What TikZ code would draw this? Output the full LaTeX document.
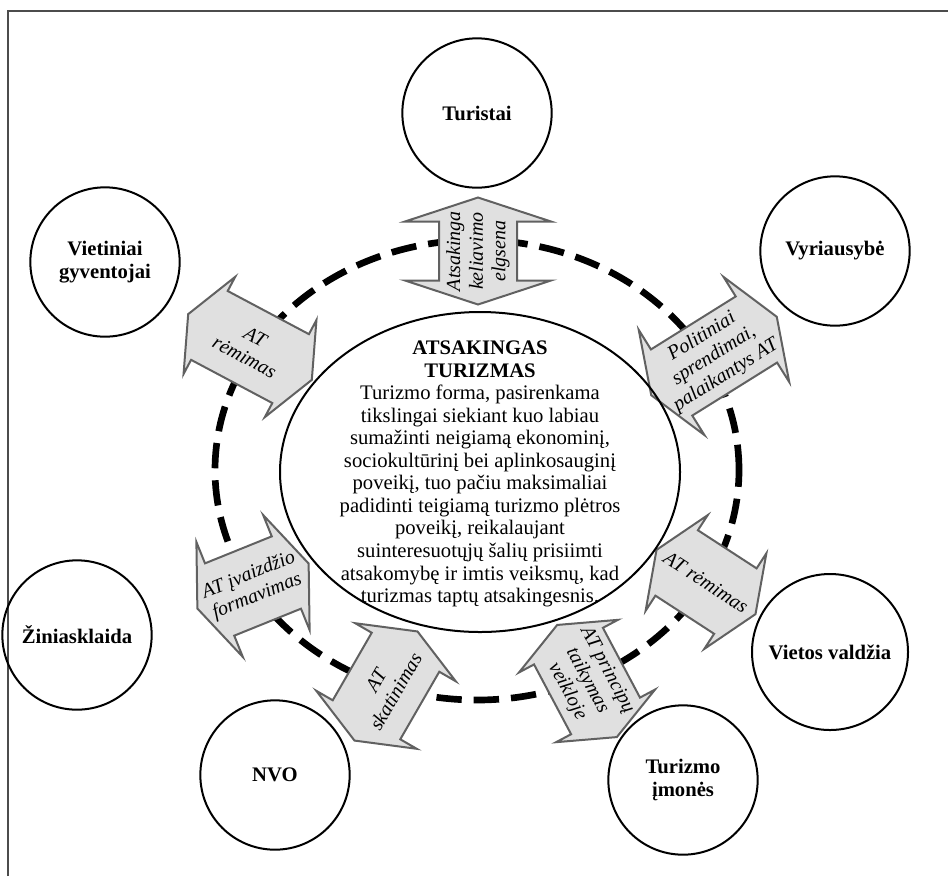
\documentclass[tikz,border=0pt]{standalone}
\usepackage{fontspec}
\setmainfont{Liberation Serif}
\usetikzlibrary{calc}
\tikzset{party/.style={circle,draw,line width=1.5pt,minimum size=112pt,inner sep=0pt,align=center,font=\bfseries\fontsize{15.5}{17}\selectfont}}
\tikzset{linkarrow/.style={draw=black!62,line width=1.5pt,fill=black!12}}
\tikzset{linktext/.style={inner sep=0pt,align=center,font=\itshape\fontsize{15}{17}\selectfont}}
\tikzset{ring/.style={line width=5pt,dash pattern=on 19pt off 9pt}}
% double block arrow: name, centre, angle, length, half head width, text
\newcommand{\atlink}[6]{%
  \begin{scope}[shift={#2},rotate=#3]
    \draw[linkarrow] ({-#4/2},0) -- ({-#4/2+24},#5) -- ({-#4/2+24},39) -- ({#4/2-24},39)
      -- ({#4/2-24},#5) -- ({#4/2},0) -- ({#4/2-24},-#5) -- ({#4/2-24},-39)
      -- ({-#4/2+24},-39) -- ({-#4/2+24},-#5) -- cycle;
    \node[linktext,rotate=#3] (#1) at (0,0) {#6};
  \end{scope}}

\begin{document}
\begin{tikzpicture}[x=0.75pt,y=-0.75pt]
                    \useasboundingbox (0,0) rectangle (948,876);
                    \draw[black!70,line width=1pt] (8,876) -- (8,11) -- (948,11);

                    \draw[ring] (477,470) ellipse [x radius=196.5pt,y radius=172.5pt];

                    \atlink{elgsena}{(478,251)}{90}{107}{73}{Atsakinga\\keliavimo\\elgsena}
                    \atlink{remimasA}{(250,347)}{-28}{140}{55}{AT\\rėmimas}
                    \atlink{politika}{(714,356)}{32}{148}{62}{Politiniai\\sprendimai,\\palaikantys AT}
                    \atlink{remimasB}{(706,582)}{-33}{118}{57}{AT rėmimas}
                    \atlink{principai}{(587,681)}{-62}{127}{56}{AT principų\\taikymas\\veikloje}
                    \atlink{skatinimas}{(386,686)}{60}{126}{58}{AT\\skatinimas}
                    \atlink{ivaizdis}{(253,586)}{22}{120}{62}{AT įvaizdžio\\formavimas}

                    \node[party] (turistai) at (477,113) {Turistai};
                    \node[party] (vyriausybe) at (835,251) {Vyriausybė};
                    \node[party] (vietiniai) at (105,262) {Vietiniai\\gyventojai};
                    \node[party] (ziniasklaida) at (77,635) {Žiniasklaida};
                    \node[party,minimum size=117pt] (valdzia) at (830,652) {Vietos valdžia};
                    \node[party] (nvo) at (275,775) {NVO};
                    \node[party] (imones) at (683,780) {Turizmo\\įmonės};

                    \node[inner sep=0pt,align=center,font=\fontsize{15.5}{16.9}\selectfont] (core) at (480,474)
                      {\textbf{ATSAKINGAS}\\\textbf{TURIZMAS}\\Turizmo forma, pasirenkama\\tikslingai siekiant kuo labiau\\sumažinti neigiamą ekonominį,\\sociokultūrinį bei aplinkosauginį\\poveikį, tuo pačiu maksimaliai\\padidinti teigiamą turizmo plėtros\\poveikį, reikalaujant\\suinteresuotųjų šalių prisiimti\\atsakomybę ir imtis veiksmų, kad\\turizmas taptų atsakingesnis.};
                    \draw[line width=1.5pt] (480,472) ellipse [x radius=150pt,y radius=120pt];
                \end{tikzpicture}
\end{document}
